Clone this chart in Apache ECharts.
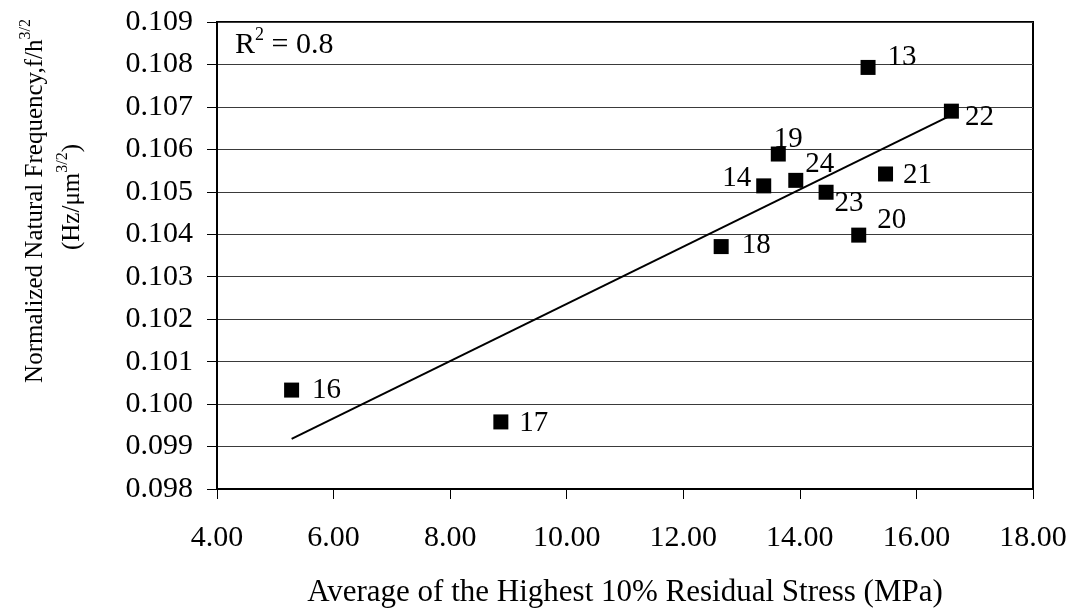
<!DOCTYPE html>
<html>
<head>
<meta charset="utf-8">
<script src="https://cdn.jsdelivr.net/npm/echarts@6/dist/echarts.min.js"></script>
<style>
html,body{margin:0;padding:0;background:#fff;}
#chart{width:1078px;height:613px;}
</style>
</head>
<body>
<div id="chart"></div>
<script>
// ---- data ----
var sampleIds = ['13','22','19','14','24','23','21','20','18','16','17'];
var residualStress = [15.17, 16.60, 13.63, 13.38, 13.93, 14.45, 15.47, 15.01, 12.65, 5.28, 8.87];
var normFrequency = [0.10793, 0.10690, 0.10589, 0.10514, 0.10527, 0.10499, 0.10542, 0.10398, 0.10371, 0.10033, 0.09958];
var xTicks = [4, 6, 8, 10, 12, 14, 16, 18];
var yTicks = [0.098, 0.099, 0.100, 0.101, 0.102, 0.103, 0.104, 0.105, 0.106, 0.107, 0.108, 0.109];
var rSquaredText = '0.8';

// ---- label placement (style, not data) ----
var labelOffsets = [[34,-10],[28,6],[10,-15],[-27,-7],[24,-16],[23,11],[32,1],[33,-15],[35,-1],[35,0],[33,1]];

// linear regression trendline from data
var n = residualStress.length, mx = 0, my = 0;
for (var i = 0; i < n; i++) { mx += residualStress[i]; my += normFrequency[i]; }
mx /= n; my /= n;
var sxy = 0, sxx = 0;
for (var i = 0; i < n; i++) { sxy += (residualStress[i]-mx)*(normFrequency[i]-my); sxx += (residualStress[i]-mx)*(residualStress[i]-mx); }
var slope = sxy / sxx, intercept = my - slope * mx;
var xMin = Math.min.apply(null, residualStress), xMax = Math.max.apply(null, residualStress);
var trend = [[xMin, intercept + slope * xMin], [xMax, intercept + slope * xMax]];

var FONT = "'Liberation Serif','Times New Roman',serif";

var points = residualStress.map(function (x, i) {
  return {
    value: [x, normFrequency[i]],
    name: sampleIds[i],
    label: { offset: labelOffsets[i] }
  };
});

var chart = echarts.init(document.getElementById('chart'), null, { renderer: 'canvas' });
chart.setOption({
  backgroundColor: '#fff',
  animation: false,
  grid: { left: 217, right: 45, top: 22, bottom: 124, show: true, borderColor: '#000', borderWidth: 2, backgroundColor: 'transparent' },
  xAxis: {
    type: 'value', min: xTicks[0], max: xTicks[xTicks.length-1], interval: 2,
    axisLine: { show: true, lineStyle: { color: '#000', width: 2 } },
    axisTick: { show: true, inside: false, length: 10, lineStyle: { color: '#000', width: 1 } },
    axisLabel: { margin: 34, color: '#000', fontFamily: FONT, fontSize: 30, formatter: function (v) { return v.toFixed(2); } },
    splitLine: { show: false },
    name: 'Average of the Highest 10% Residual Stress (MPa)',
    nameLocation: 'middle', nameGap: 88,
    nameTextStyle: { color: '#000', fontFamily: FONT, fontSize: 31 }
  },
  yAxis: {
    type: 'value', min: yTicks[0], max: yTicks[yTicks.length-1], interval: 0.001,
    axisLine: { show: true, lineStyle: { color: '#000', width: 2 } },
    axisTick: { show: true, inside: false, length: 10, lineStyle: { color: '#000', width: 1 } },
    axisLabel: { margin: 24, color: '#000', fontFamily: FONT, fontSize: 30, formatter: function (v) { return v.toFixed(3); } },
    splitLine: { show: true, lineStyle: { color: '#3a3a3a', width: 1 } }
  },
  series: [
    {
      type: 'line', data: trend, showSymbol: false, symbol: 'none',
      lineStyle: { color: '#000', width: 2 }, z: 2
    },
    {
      type: 'scatter', data: points, symbol: 'rect', symbolSize: 15,
      itemStyle: { color: '#000', opacity: 1 },
      label: { show: true, position: 'inside', formatter: '{b}', color: '#000', fontFamily: FONT, fontSize: 29 },
      z: 3
    }
  ],
  graphic: [
    {
      type: 'text', left: 235, top: 26,
      style: {
        text: '{m|R}{s|2}{m| = ' + rSquaredText + '}',
        rich: {
          m: { fontFamily: FONT, fontSize: 30, fill: '#000', lineHeight: 34, verticalAlign: 'bottom' },
          s: { fontFamily: FONT, fontSize: 18, fill: '#000', lineHeight: 34, verticalAlign: 'top' }
        }
      }
    },
    {
      type: 'text', x: 33, y: 201, rotation: Math.PI / 2,
      style: {
        text: '{m|Normalized Natural Frequency,f/h}{s|3/2}',
        align: 'center', verticalAlign: 'middle',
        rich: {
          m: { fontFamily: FONT, fontSize: 25, fill: '#000', lineHeight: 30, verticalAlign: 'bottom' },
          s: { fontFamily: FONT, fontSize: 16, fill: '#000', lineHeight: 30, verticalAlign: 'top' }
        }
      }
    },
    {
      type: 'text', x: 70, y: 197, rotation: Math.PI / 2,
      style: {
        text: '{m|(Hz/μm}{s|3/2}{m|)}',
        align: 'center', verticalAlign: 'middle',
        rich: {
          m: { fontFamily: FONT, fontSize: 25, fill: '#000', lineHeight: 30, verticalAlign: 'bottom' },
          s: { fontFamily: FONT, fontSize: 16, fill: '#000', lineHeight: 30, verticalAlign: 'top' }
        }
      }
    }
  ]
});
</script>
</body>
</html>
